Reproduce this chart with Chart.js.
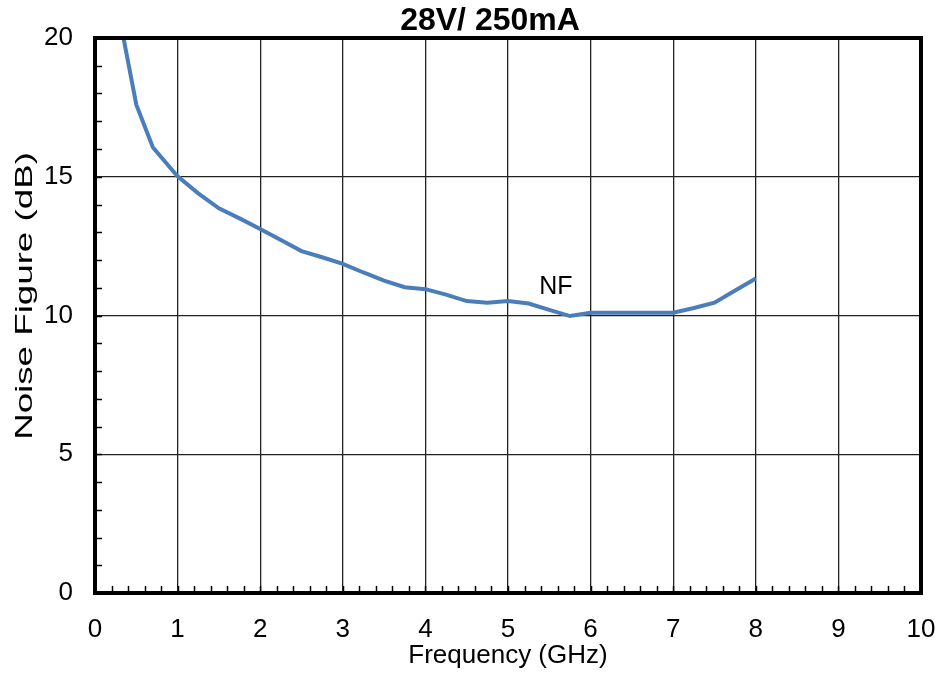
<!DOCTYPE html>
<html>
<head>
<meta charset="utf-8">
<script src="https://cdn.jsdelivr.net/npm/chart.js@4/dist/chart.umd.min.js"></script>
<style>
html,body{margin:0;padding:0;background:#fff;}
#wrap{width:943px;height:675px;}
</style>
</head>
<body>
<div id="wrap"><canvas id="c" width="943" height="675"></canvas></div>
<script>
const chartTitle = "28V/ 250mA";
const xTitle = "Frequency (GHz)";
const yTitle = "Noise Figure (dB)";
const seriesLabel = "NF";
const freqGHz = [0.3, 0.5, 0.7, 0.9, 1.0, 1.25, 1.5, 1.75, 2.0, 2.25, 2.5, 2.75, 3.0, 3.25, 3.5, 3.75, 4.0, 4.25, 4.5, 4.75, 5.0, 5.25, 5.5, 5.75, 6.0, 6.25, 6.5, 6.75, 7.0, 7.25, 7.5, 7.75, 8.0];
const nfDb = [20.7, 17.6, 16.06, 15.36, 15.02, 14.4, 13.86, 13.5, 13.12, 12.72, 12.32, 12.1, 11.86, 11.55, 11.26, 11.02, 10.95, 10.75, 10.52, 10.46, 10.52, 10.43, 10.2, 9.98, 10.1, 10.1, 10.1, 10.1, 10.1, 10.27, 10.46, 10.9, 11.33];
const xMin = 0, xMax = 10, xMajor = 1, xMinor = 0.2;
const yMin = 0, yMax = 20, yMajor = 5, yMinor = 1;
const labelPos = {x: 5.58, y: 11.03};

const FONT = "'Liberation Sans', Arial, sans-serif";

const framePlugin = {
  id: 'frame',
  afterDatasetsDraw(chart) {
    const ctx = chart.ctx, a = chart.chartArea;
    const xs = chart.scales.x, ys = chart.scales.y;
    ctx.save();
    ctx.strokeStyle = '#000';
    ctx.lineWidth = 1.5;
    ctx.beginPath();
    for (let v = xMin; v <= xMax + 1e-9; v += xMinor) {
      const px = Math.round(xs.getPixelForValue(v)) + 0.5;
      ctx.moveTo(px, a.bottom);
      ctx.lineTo(px, a.bottom - 7);
    }
    for (let v = yMin; v <= yMax + 1e-9; v += yMinor) {
      const py = Math.round(ys.getPixelForValue(v)) + 0.5;
      ctx.moveTo(a.left, py);
      ctx.lineTo(a.left + 7, py);
    }
    ctx.stroke();
    ctx.lineWidth = 4;
    ctx.strokeRect(a.left, a.top, a.right - a.left, a.bottom - a.top);
    ctx.fillStyle = '#000';
    ctx.font = "25px " + FONT;
    ctx.textAlign = 'center';
    ctx.textBaseline = 'middle';
    ctx.fillText(seriesLabel, xs.getPixelForValue(labelPos.x), ys.getPixelForValue(labelPos.y));
    ctx.font = "bold 32px " + FONT;
    ctx.fillText(chartTitle, 490, 21);
    ctx.save();
    ctx.translate(25, 296);
    ctx.rotate(-Math.PI / 2);
    ctx.scale(1.53, 1);
    ctx.font = "24px " + FONT;
    ctx.fillText(yTitle, 0, 0);
    ctx.restore();
    ctx.restore();
  }
};

new Chart(document.getElementById('c'), {
  type: 'line',
  data: {
    datasets: [{
      label: seriesLabel,
      data: freqGHz.map((f, i) => ({x: f, y: nfDb[i]})),
      borderColor: 'rgb(74,126,187)',
      borderWidth: 4,
      pointRadius: 0,
      tension: 0,
      fill: false
    }]
  },
  options: {
    responsive: false,
    animation: false,
    layout: {padding: {top: 38, right: 22, left: 0, bottom: 0}},
    plugins: {legend: {display: false}, tooltip: {enabled: false}, title: {display: false}},
    scales: {
      x: {
        type: 'linear', min: xMin, max: xMax,
        afterFit(s) { s.height = 82; s.paddingLeft = 0; s.paddingRight = 0; },
        ticks: {stepSize: xMajor, color: '#000', font: {family: FONT, size: 26}, padding: 21, maxRotation: 0},
        grid: {color: '#222', lineWidth: 1.3, drawTicks: false},
        border: {display: false},
        title: {display: true, text: xTitle, color: '#000', font: {family: FONT, size: 26}, padding: {top: 0, bottom: 4}}
      },
      y: {
        type: 'linear', min: yMin, max: yMax,
        afterFit(s) { s.width = 95; s.paddingTop = 0; s.paddingBottom = 0; },
        ticks: {stepSize: yMajor, color: '#000', font: {family: FONT, size: 26}, padding: 22},
        grid: {color: '#222', lineWidth: 1.3, drawTicks: false},
        border: {display: false},
        title: {display: false}
      }
    }
  },
  plugins: [framePlugin]
});
</script>
</body>
</html>
